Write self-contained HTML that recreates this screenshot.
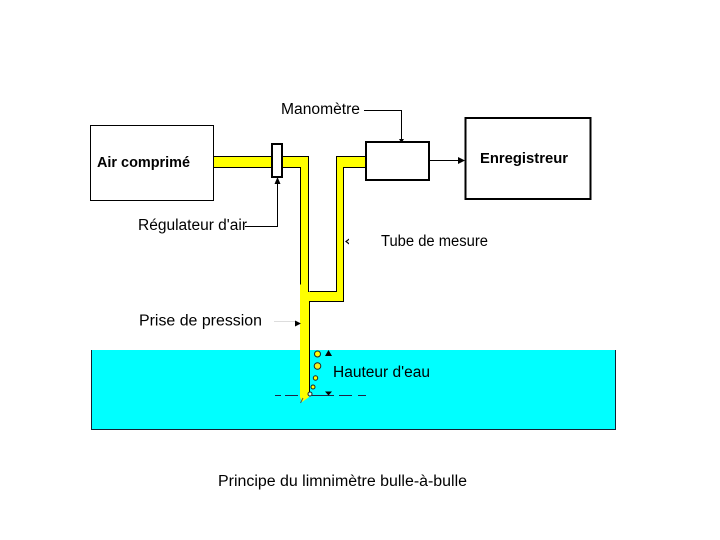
<!DOCTYPE html>
<html><head><meta charset="utf-8"><style>
html,body{margin:0;padding:0;background:#fff}
svg{display:block}
text{font-family:"Liberation Sans",sans-serif;fill:#000}
</style></head><body>
<svg width="720" height="540" viewBox="0 0 720 540" xmlns="http://www.w3.org/2000/svg">
<rect x="91.500" y="350" width="524" height="79.500" fill="#00ffff"/>
<path d="M91.500 350V429.500H615.500V350" fill="none" stroke="#123" stroke-width="1"/>
<!-- pipes -->
<path d="M213 156H309V397L302 402L300 397V167H213Z" fill="#ffff00"/>
<path d="M309 292H336V156H366V167H343V301H309Z" fill="#ffff00"/>
<g fill="none" stroke="#000" stroke-width="1">
<path d="M213 156.500H272M213 167.500H272"/>
<path d="M282 156.500H308.500V292M282 167.500H300.500V284.500"/>
<path d="M309.500 394V301.500H343.500V167.500H366M309.500 291.500H336.500V156.500H366"/>
</g>
<!-- boxes -->
<rect x="90.500" y="125.500" width="123" height="75" fill="#fff" stroke="#000"/>
<rect x="272" y="144" width="10" height="33" fill="#fff" stroke="#000" stroke-width="2"/>
<rect x="366" y="142" width="63" height="38" fill="#fff" stroke="#000" stroke-width="2"/>
<rect x="465.500" y="118" width="125" height="81" fill="#fff" stroke="#000" stroke-width="2"/>
<!-- connectors -->
<g fill="none" stroke="#000" stroke-width="1">
<path d="M245 226.500H277.500V182"/>
<path d="M364 110.500H401.500V140"/>
<path d="M430 160.500H460"/>
<path d="M274 321.500H297" stroke="#ddd"/>
<path d="M275 395.500H281M285 395.500H298M312 395.500H334M339 395.500H352M358 395.500H366" stroke="#224"/>
</g>
<g fill="#000">
<path d="M277.500 177L274.500 184H280.500Z"/>
<path d="M401.500 143L399 139H404Z"/>
<path d="M465 160.500L458 157V164Z"/>
<path d="M345 241.500L349 238.500V240L347 241.500L349 243V244.500Z"/>
<path d="M301 323.500L295 320.500V326.500Z"/>
<path d="M328.500 350L325 356H332Z"/>
<path d="M328.500 395.500L325 391.500H332Z"/>
</g>
<!-- bubbles -->
<g stroke="#222" stroke-width="1" fill="#ffff00">
<circle cx="317.500" cy="354" r="3"/>
<circle cx="317.500" cy="366" r="3.300" fill="#f4f020"/>
<circle cx="315.500" cy="378" r="2.200"/>
<circle cx="313" cy="387" r="2"/>
<circle cx="310" cy="394" r="2" fill="#cfe"/>
</g>
<path d="M303 398L300.500 403" stroke="#555" stroke-width="1"/>
<!-- labels -->
<text x="281" y="114" font-size="15.500" textLength="79" lengthAdjust="spacingAndGlyphs">Manomètre</text>
<text x="97" y="167" font-size="15" font-weight="bold" textLength="93" lengthAdjust="spacingAndGlyphs">Air comprimé</text>
<text x="480" y="163" font-size="15" font-weight="bold" textLength="88" lengthAdjust="spacingAndGlyphs">Enregistreur</text>
<text x="138" y="230" font-size="15.500" textLength="109" lengthAdjust="spacingAndGlyphs">Régulateur d'air</text>
<text x="381" y="246" font-size="15.500" textLength="107" lengthAdjust="spacingAndGlyphs">Tube de mesure</text>
<text x="139" y="325.500" font-size="15.500" textLength="123" lengthAdjust="spacingAndGlyphs">Prise de pression</text>
<text x="333" y="377" font-size="15.500" textLength="97" lengthAdjust="spacingAndGlyphs">Hauteur d'eau</text>
<text x="218" y="486" font-size="15.500" textLength="249" lengthAdjust="spacingAndGlyphs">Principe du limnimètre bulle-à-bulle</text>
</svg>
</body></html>
